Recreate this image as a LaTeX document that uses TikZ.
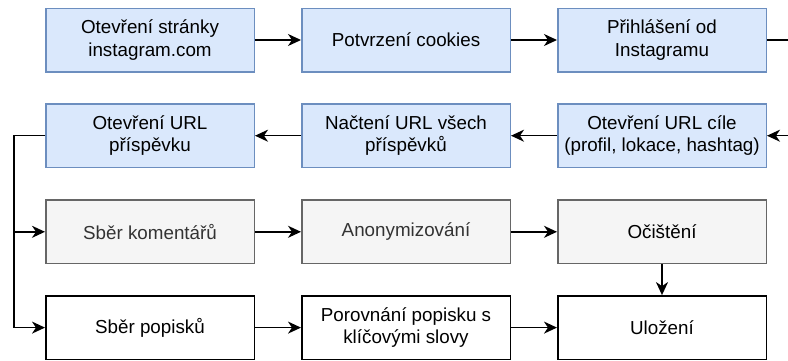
\documentclass[tikz,border=0pt]{standalone}
\usepackage{fontspec}
\setmainfont{Liberation Sans}
\usetikzlibrary{arrows.meta}
\definecolor{bluefill}{HTML}{DAE8FC}
\definecolor{bluedraw}{HTML}{6C8EBF}
\definecolor{grayfill}{HTML}{F5F5F5}
\definecolor{graydraw}{HTML}{666666}
\definecolor{graytext}{HTML}{333333}
\tikzset{
  box/.style={draw, line width=1.5pt, minimum width=208.5pt, minimum height=63.5pt, inner sep=0pt, align=center, font=\fontsize{18.8}{22.6}\selectfont},
  bluebox/.style={box, fill=bluefill, draw=bluedraw},
  graybox/.style={box, fill=grayfill, draw=graydraw, text=graytext},
  graybox2/.style={box, fill=grayfill, draw=graydraw},
  whitebox/.style={box, fill=white, draw=black},
  conn/.style={line width=1.5pt, -{Stealth[length=13pt, width=12pt, inset=4pt]}},
}
\begin{document}
\begin{tikzpicture}[x=1pt, y=-1pt]
\useasboundingbox (0,0) rectangle (788,360);
\clip (0,0) rectangle (788,360);
\fill[white] (0,0) rectangle (788,360);
% row 1
\node[bluebox] (a1) at (150,40) {Otevření stránky\\instagram.com};
\node[bluebox] (a2) at (406,40) {Potvrzení cookies};
\node[bluebox] (a3) at (662,40) {Přihlášení od\\Instagramu};
% row 2
\node[bluebox] (b3) at (662,135.7) {Otevření URL cíle\\(profil, lokace, hashtag)};
\node[bluebox] (b2) at (406,135.7) {Načtení URL všech\\příspěvků};
\node[bluebox] (b1) at (150,135.7) {Otevření URL\\příspěvku};
% row 3
\node[graybox] (c1) at (150,231.8) {Sběr komentářů};
\node[graybox] (c2) at (406,231.8) {Anonymizování};
\node[graybox2] (c3) at (662,231.8) {Očištění};
% row 4
\node[whitebox] (d1) at (150,327.6) {Sběr popisků};
\node[whitebox] (d2) at (406,327.6) {Porovnání popisku s\\klíčovými slovy};
\node[whitebox] (d3) at (662,327.6) {Uložení};
% coordinates
\coordinate (rtop) at (800,40);
\coordinate (rbot) at (800,135.7);
\coordinate (lx) at (14,135.7);
% connectors
\draw[conn] (a1) -- (a2);
\draw[conn] (a2) -- (a3);
\draw[conn] (a3.east) -- (rtop) -- (rbot) -- (b3.east);
\draw[conn] (b3) -- (b2);
\draw[conn] (b2) -- (b1);
\draw[conn] (b1.west) -- (lx) |- (c1.west);
\draw[conn] (b1.west) -- (lx) |- (d1.west);
\draw[conn] (c1) -- (c2);
\draw[conn] (c2) -- (c3);
\draw[conn] (c3) -- (d3);
\draw[conn] (d1) -- (d2);
\draw[conn] (d2) -- (d3);
\end{tikzpicture}
\end{document}
